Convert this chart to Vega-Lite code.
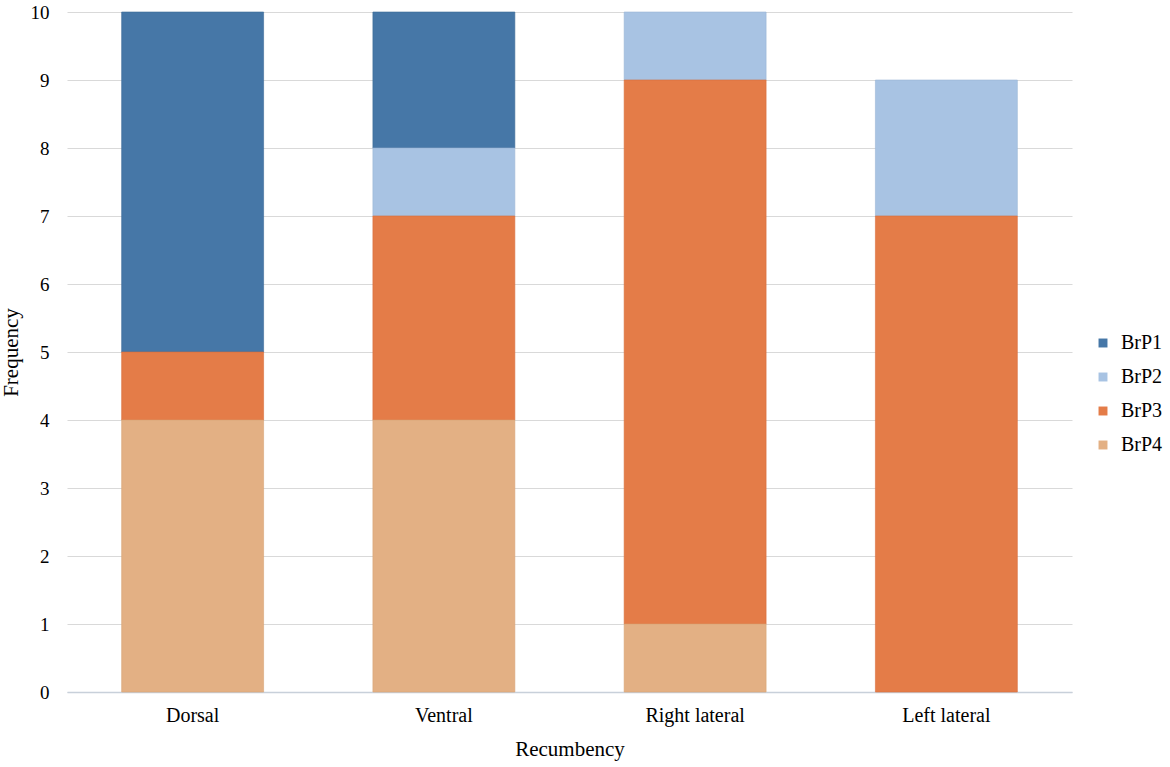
{
  "$schema": "https://vega.github.io/schema/vega-lite/v6.json",
  "autosize": "none",
  "width": 1005,
  "height": 680,
  "padding": {"left": 67, "top": 12, "right": 98, "bottom": 75},
  "background": "#ffffff",
  "config": {
    "font": "Liberation Serif",
    "view": {"stroke": null}
  },
  "data": {
    "values": [
      {"position": "Dorsal", "group": "BrP1", "count": 5},
      {"position": "Dorsal", "group": "BrP3", "count": 1},
      {"position": "Dorsal", "group": "BrP4", "count": 4},
      {"position": "Ventral", "group": "BrP1", "count": 2},
      {"position": "Ventral", "group": "BrP2", "count": 1},
      {"position": "Ventral", "group": "BrP3", "count": 3},
      {"position": "Ventral", "group": "BrP4", "count": 4},
      {"position": "Right lateral", "group": "BrP2", "count": 1},
      {"position": "Right lateral", "group": "BrP3", "count": 8},
      {"position": "Right lateral", "group": "BrP4", "count": 1},
      {"position": "Left lateral", "group": "BrP2", "count": 2},
      {"position": "Left lateral", "group": "BrP3", "count": 7}
    ]
  },
  "transform": [
    {"calculate": "indexof(['BrP4','BrP3','BrP2','BrP1'], datum.group)", "as": "order"}
  ],
  "mark": {"type": "bar", "strokeWidth": 1, "strokeOpacity": 0.6},
  "encoding": {
    "x": {
      "field": "position",
      "type": "nominal",
      "sort": ["Dorsal", "Ventral", "Right lateral", "Left lateral"],
      "scale": {"paddingInner": 0.435},
      "title": "Recumbency",
      "axis": {
        "labelAngle": 0,
        "labelFont": "Liberation Serif",
        "labelFontSize": 20,
        "labelColor": "#000000",
        "labelPadding": 13,
        "titleFont": "Liberation Serif",
        "titleFontSize": 21,
        "titleFontWeight": "normal",
        "titleColor": "#000000",
        "titlePadding": 13,
        "ticks": false,
        "domainColor": "#c8d0da",
        "domainWidth": 1.5
      }
    },
    "y": {
      "field": "count",
      "type": "quantitative",
      "aggregate": "sum",
      "stack": "zero",
      "scale": {"domain": [0, 10], "nice": false},
      "title": "Frequency",
      "axis": {
        "values": [0, 1, 2, 3, 4, 5, 6, 7, 8, 9, 10],
        "labelFont": "Liberation Serif",
        "labelFontSize": 19,
        "labelColor": "#000000",
        "labelPadding": 18,
        "titleFont": "Liberation Serif",
        "titleFontSize": 21,
        "titleFontWeight": "normal",
        "titleColor": "#000000",
        "titlePadding": 9,
        "ticks": false,
        "domain": false,
        "gridColor": "#d9d9d9",
        "gridWidth": 1.2
      }
    },
    "color": {
      "field": "group",
      "type": "nominal",
      "scale": {
        "domain": ["BrP1", "BrP2", "BrP3", "BrP4"],
        "range": ["#4677a7", "#a8c3e3", "#e47c48", "#e3b084"]
      },
      "legend": {
        "title": null,
        "orient": "none",
        "legendX": 1026,
        "legendY": 321,
        "symbolType": "square",
        "symbolSize": 80,
        "symbolStrokeWidth": 0,
        "labelFont": "Liberation Serif",
        "labelFontSize": 20,
        "labelColor": "#000000",
        "rowPadding": 14,
        "labelOffset": 8
      }
    },
    "stroke": {
      "field": "group",
      "type": "nominal",
      "scale": {
        "domain": ["BrP1", "BrP2", "BrP3", "BrP4"],
        "range": ["#3d6a97", "#9bb6d6", "#d8703e", "#d9a577"]
      },
      "legend": null
    },
    "order": {"field": "order", "type": "quantitative"}
  }
}
